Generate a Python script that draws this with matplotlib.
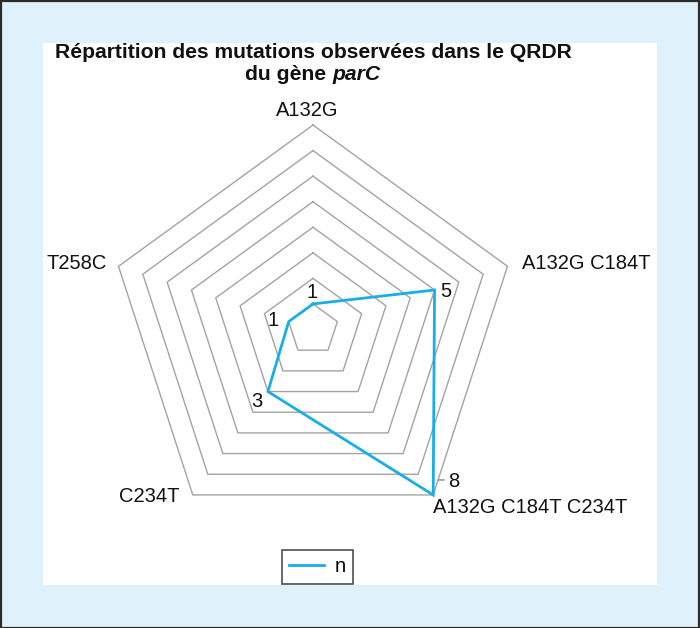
import numpy as np
import matplotlib
matplotlib.use("Agg")
import matplotlib.pyplot as plt
from matplotlib.patches import Rectangle
from matplotlib.transforms import offset_copy

plt.rcParams['font.family'] = ['Liberation Sans', 'DejaVu Sans']

categories = ["A132G", "A132G C184T", "A132G C184T C234T", "C234T", "T258C"]
values = [1, 5, 8, 3, 1]
ring_levels = [1, 2, 3, 4, 5, 6, 7, 8]
series_name = "n"
title_line1 = "Répartition des mutations observées dans le QRDR"
title_line2a = "du gène "
title_line2b = "parC"

W, H = 700, 628
fig = plt.figure(figsize=(W / 100, H / 100), dpi=100)
fig.patch.set_facecolor('#dff2fc')

# white panel
px0, py0, px1, py1 = 42.7, 42.7, 657, 585
fig.patches.append(Rectangle((px0 / W, 1 - py1 / H), (px1 - px0) / W, (py1 - py0) / H,
                             transform=fig.transFigure, facecolor='white', edgecolor='none', zorder=-2))
# outer border
fig.patches.append(Rectangle((0.5 / W, 0.5 / H), (W - 1.5) / W, (H - 1.5) / H,
                             transform=fig.transFigure, facecolor='none', edgecolor='#2b2b2b',
                             lw=1.6, zorder=10))

cx, cy, R = 313, 329.5, 204.5
ax = fig.add_axes([(cx - R) / W, (H - cy - R) / H, 2 * R / W, 2 * R / H], projection='polar')
ax.set_zorder(2)
ax.set_facecolor('none')
ax.set_theta_offset(np.pi / 2)
ax.set_theta_direction(-1)
ax.set_ylim(0, max(ring_levels))
ax.grid(False)
ax.spines['polar'].set_visible(False)
ax.set_xticks([])
ax.set_yticks([])

n = len(categories)
theta = np.arange(n) * 2 * np.pi / n
theta_c = np.append(theta, theta[0])

for lvl in ring_levels:
    ax.plot(theta_c, [lvl] * (n + 1), color='#a3a3a3', lw=1.0, zorder=1, clip_on=False)

vals_c = np.append(values, values[0])
line, = ax.plot(theta_c, vals_c, color='#19aee8', lw=2.0, zorder=3, clip_on=False,
                solid_joinstyle='miter', label=series_name)

fs = 14.5
# category labels: (dx, dy in pixels, ha, va)
cat_off = [(-6, 15, 'center', 'center'),
           (15, 3, 'left', 'center'),
           (0, -13, 'left', 'center'),
           (-13, -2, 'right', 'center'),
           (-12, 3, 'right', 'center')]
for t, lab, (dx, dy, ha, va) in zip(theta, categories, cat_off):
    ax.annotate(lab, xy=(t, max(ring_levels)), xytext=(dx, dy), textcoords='offset pixels',
                ha=ha, va=va, fontsize=fs, color='#111111', annotation_clip=False)

# data labels
val_off = [(-1, 11), (11, -1), (21, 13), (-11, -10), (-16, 1)]
for t, v, (dx, dy) in zip(theta, values, val_off):
    ax.annotate(str(v), xy=(t, v), xytext=(dx, dy), textcoords='offset pixels',
                ha='center', va='center', fontsize=fs, color='#111111', annotation_clip=False)

# leader for the "8" label
i8 = int(np.argmax(values))
ax.annotate('', xy=(theta[i8], values[i8]),
            xycoords=offset_copy(ax.transData, fig=fig, x=5, y=15, units='dots'),
            xytext=(6, 0), textcoords='offset pixels', annotation_clip=False,
            arrowprops=dict(arrowstyle='-', color='#777777', lw=0.9, shrinkA=0, shrinkB=0))

# title
fig.text(313 / W, 1 - 53 / H, title_line1, ha='center', va='center',
         fontsize=15.2, fontweight='bold', color='#111111')
ta = fig.text(0, 1 - 75 / H, title_line2a, ha='left', va='center',
              fontsize=15.2, fontweight='bold', color='#111111')
tb = fig.text(0, 1 - 75 / H, title_line2b, ha='left', va='center',
              fontsize=15.2, fontweight='bold', style='italic', color='#111111')
rend = fig.canvas.get_renderer()
wa = ta.get_window_extent(rend).width
wb = tb.get_window_extent(rend).width
x0 = 313 - (wa + wb) / 2
ta.set_x(x0 / W)
tb.set_x((x0 + wa) / W)

leg = fig.legend(handles=[line], labels=[series_name], loc='center',
                 bbox_to_anchor=(317.5 / W, 1 - 567 / H), frameon=True, fancybox=False,
                 fontsize=fs, handlelength=1.75, handletextpad=0.55, borderpad=0.35,
                 borderaxespad=0)
leg.get_frame().set_edgecolor('#222222')
leg.get_frame().set_linewidth(1.2)

fig.savefig('out.png', dpi=100, facecolor=fig.get_facecolor())
